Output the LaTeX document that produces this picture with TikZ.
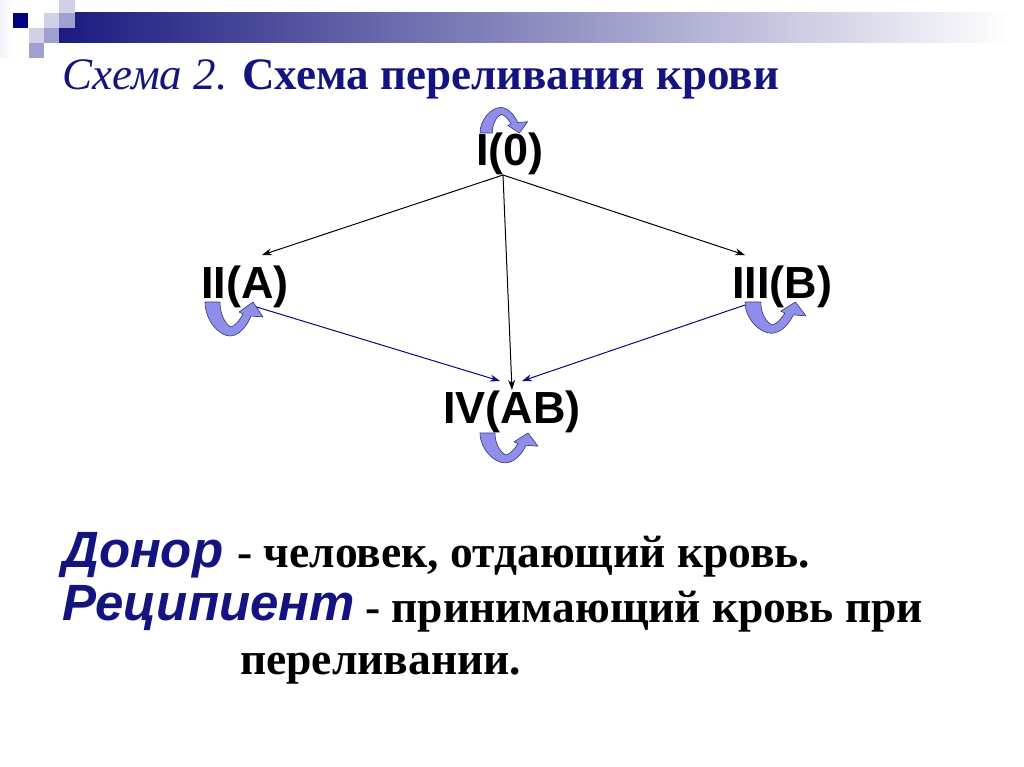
\documentclass[tikz,border=0pt]{standalone}
\usepackage{fontspec}
\setmainfont{Liberation Serif}
\newfontfamily\arialf{Liberation Sans}
\usetikzlibrary{arrows.meta,calc}
\definecolor{navyt}{RGB}{20,20,128}
\definecolor{navyd}{RGB}{10,10,120}
\definecolor{loopfill}{RGB}{143,143,235}
\definecolor{loopline}{RGB}{50,50,120}
\definecolor{sqdark}{RGB}{0,0,128}
\definecolor{sqlight}{RGB}{208,208,232}
\definecolor{sqmid}{RGB}{160,160,208}
\definecolor{barstart}{RGB}{26,26,128}
\tikzset{
  grp/.style={font=\arialf\bfseries\fontsize{45}{48}\selectfont, inner sep=0pt, anchor=base},
  blk/.style={draw=black, line width=1pt, -{Stealth[length=10pt,width=7pt]}},
  nvy/.style={draw=navyd, line width=1pt, -{Stealth[length=10pt,width=7pt]}},
  bodyt/.style={anchor=base west, inner sep=0pt, font=\bfseries\fontsize{45.5}{50}\selectfont},
  termt/.style={anchor=base west, inner sep=0pt, text=navyt, font=\arialf\bfseries\itshape\fontsize{51}{55}\selectfont},
  loopshape/.style={fill=loopfill, draw=loopline, line width=0.6pt, line join=round},
  loop/.pic={
    \path[loopshape] (0,0) .. controls (0,18) and (14,34) .. (25,34)
      .. controls (34,34) and (42,24) .. (46,14) -- (58,15) -- (48,0) -- (34,10) -- (38,12)
      .. controls (35,18) and (30,24) .. (26,25)
      .. controls (20,22) and (15,12) .. (15,0) -- cycle;
  }
}
\begin{document}
\begin{tikzpicture}[x=1pt,y=-1pt]
\useasboundingbox (0,0) rectangle (1024,767);
\fill[white] (0,0) rectangle (1024,767);
% header decoration
\shade[left color=white!85!sqmid, right color=white] (0,0) rectangle (13,58);
\shade[left color=barstart, right color=white] (59,13) rectangle (1012,43);
\fill[sqdark] (13,13) rectangle (28,28);
\fill[sqlight] (59,0) rectangle (75,13);
\fill[sqlight] (44,13) rectangle (59,28);
\fill[sqmid] (59,13) rectangle (75,28);
\fill[sqlight] (29,28) rectangle (44,43);
\fill[sqmid] (44,28) rectangle (59,43);
\fill[sqmid] (29,43) rectangle (44,58);
% title
\node[anchor=base west, inner sep=0pt, text=navyt, font=\fontsize{45}{50}\selectfont] (title) at (62,90)
  {\itshape Схема 2. \bfseries\upshape Схема переливания крови};
% group nodes
\node[grp] (I) at (510,166) {I(0)};
\node[grp] (A) at (245,298) {II(A)};
\node[grp] (B) at (782,298) {III(B)};
\node[grp] (D) at (512,423) {IV(AB)};
% connectors
\draw[blk] ($(I.base)+(-7,9)$) -- ($(A.base)+(17,-43)$);
\draw[blk] ($(I.base)+(-7,9)$) -- ($(B.base)+(-37,-43)$);
\draw[blk] ($(I.base)+(-7,9)$) -- ($(D.base)+(0,-33)$);
\draw[nvy] ($(A.base)+(5,7)$) -- ($(D.base)+(-12,-42)$);
\draw[nvy] ($(B.base)+(-37,7)$) -- ($(D.base)+(10,-42)$);
% self loops
\pic[xscale=0.82,yscale=-0.75] at (480,133) {loop};
\pic at (205,302) {loop};
\pic[xscale=1.05,yscale=0.92] at (745,302) {loop};
\pic[xscale=1.0,yscale=0.88] at (480,433) {loop};
% definitions
\node[termt] (don) at (62,567) {Донор};
\node[bodyt] (dontxt) at (237,567) {- человек, отдающий кровь.};
\node[termt] (rec) at (62,620) {Реципиент};
\node[bodyt] (rectxt) at (365,622) {- принимающий кровь при};
\node[bodyt] (rectxt2) at (240,674) {переливании.};
\end{tikzpicture}
\end{document}
